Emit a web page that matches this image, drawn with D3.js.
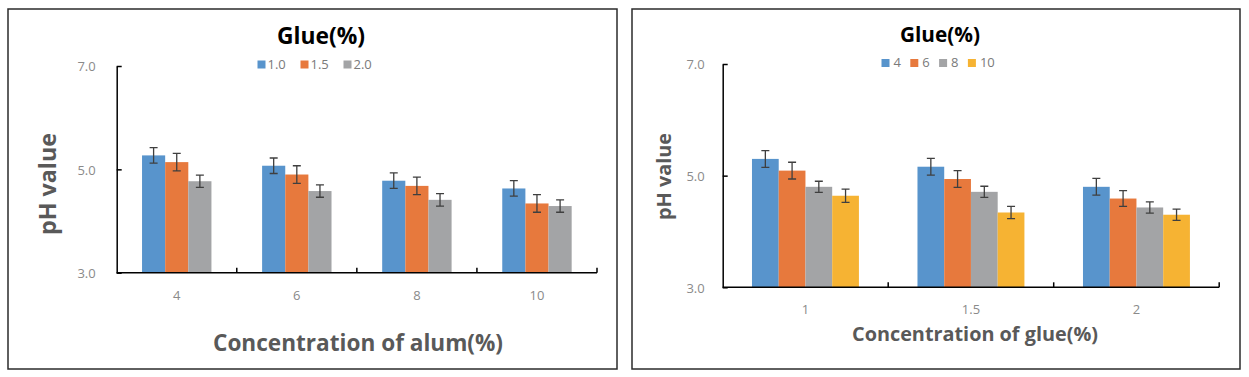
<!DOCTYPE html>
<html>
<head>
<meta charset="utf-8">
<script src="https://cdn.jsdelivr.net/npm/d3@7"></script>
<style>
  html, body { margin: 0; padding: 0; background: #fff; }
  svg { display: block; }
  text { font-family: "Open Sans", "Noto Sans", sans-serif; }
</style>
</head>
<body>
<svg id="chart" width="1249" height="377"></svg>
<script>
// ---------- DATA ----------
const yTickValues = [3.0, 5.0, 7.0];

const leftCategories = ["4", "6", "8", "10"];
const leftSeries = ["1.0", "1.5", "2.0"];
const leftValues = [
  [5.27, 5.07, 4.78, 4.63],
  [5.14, 4.90, 4.68, 4.34],
  [4.77, 4.58, 4.41, 4.29]
];
const leftErrors = [
  [0.15, 0.15, 0.15, 0.15],
  [0.17, 0.17, 0.17, 0.17],
  [0.12, 0.12, 0.12, 0.12]
];

const rightCategories = ["1", "1.5", "2"];
const rightSeries = ["4", "6", "8", "10"];
const rightValues = [
  [5.30, 5.16, 4.80],
  [5.09, 4.94, 4.59],
  [4.80, 4.71, 4.43],
  [4.64, 4.34, 4.30]
];
const rightErrors = [
  [0.15, 0.15, 0.15],
  [0.15, 0.15, 0.14],
  [0.10, 0.10, 0.10],
  [0.12, 0.11, 0.10]
];

const chartTitle = "Glue(%)";
const yTitle = "pH value";
const leftXTitle = "Concentration of alum(%)";
const rightXTitle = "Concentration of glue(%)";

// ---------- STYLE ----------
const colors = ["#5894CC", "#E7793D", "#A3A4A6", "#F6B333"];
const svg = d3.select("#chart");

function fitWidth(sel, target) {
  const node = sel.node();
  let fs = parseFloat(sel.attr("font-size"));
  for (let i = 0; i < 3; i++) {
    const w = node.getComputedTextLength();
    fs = fs * target / w;
    sel.attr("font-size", fs);
  }
}

function drawChart(cfg) {
  const g = svg.append("g");
  // frame
  g.append("rect")
    .attr("x", cfg.frame[0]).attr("y", cfg.frame[1])
    .attr("width", cfg.frame[2] - cfg.frame[0]).attr("height", cfg.frame[3] - cfg.frame[1])
    .attr("fill", "#fff").attr("stroke", "#2b2b2b").attr("stroke-width", 1.5);

  const y = d3.scaleLinear().domain([3, 7]).range([cfg.y1, cfg.y0]);
  const xCat = d3.scaleBand().domain(cfg.categories).range([cfg.x0, cfg.x1]);
  const n = cfg.series.length;
  const groupW = xCat.bandwidth() * n / (n + 2.19);
  const xSer = d3.scaleBand().domain(d3.range(n)).range([0, groupW]);
  const off = (xCat.bandwidth() - groupW) / 2;

  // bars
  const flat = [];
  cfg.values.forEach((row, si) => row.forEach((v, ci) => {
    flat.push({ si, ci, v, e: cfg.errors[si][ci], cat: cfg.categories[ci] });
  }));
  g.append("g").selectAll("rect").data(flat).join("rect")
    .attr("x", d => xCat(d.cat) + off + xSer(d.si))
    .attr("width", xSer.bandwidth())
    .attr("y", d => y(d.v))
    .attr("height", d => y(3) - y(d.v))
    .attr("fill", d => colors[d.si]);

  // error bars
  const eg = g.append("g").attr("stroke", "#3f3f3f").attr("stroke-width", 1.3).attr("fill", "none");
  const cap = 4;
  const ex = d => xCat(d.cat) + off + xSer(d.si) + xSer.bandwidth() / 2;
  eg.selectAll("path").data(flat).join("path")
    .attr("d", d => {
      const cx = ex(d), t = y(d.v + d.e), b = y(d.v - d.e);
      return `M${cx},${t}V${b}M${cx - cap},${t}H${cx + cap}M${cx - cap},${b}H${cx + cap}`;
    });

  // y axis (ticks pointing inward)
  const yAxis = d3.axisRight(y).tickValues(yTickValues).tickSize(5).tickFormat("").tickSizeOuter(0);
  const ya = g.append("g").attr("transform", `translate(${cfg.x0},0)`).call(yAxis);
  ya.select(".domain").attr("stroke", "#000").attr("stroke-width", 1.5);
  ya.selectAll(".tick line").attr("stroke", "#000").attr("stroke-width", 1.5);
  g.append("g").selectAll("text").data(yTickValues).join("text")
    .attr("x", cfg.x0 - cfg.yLabelGap)
    .attr("y", d => y(d) + 2)
    .attr("text-anchor", "end").attr("dominant-baseline", "middle")
    .attr("font-size", 13).attr("fill", "#8a8a8a")
    .text(d => d.toFixed(1));

  // x axis with ticks at category boundaries, pointing up
  const bounds = cfg.categories.map(c => xCat(c)).concat([cfg.x1]).slice(1);
  g.append("line").attr("x1", cfg.x0).attr("x2", cfg.x1).attr("y1", y(3)).attr("y2", y(3))
    .attr("stroke", "#000").attr("stroke-width", 1.5);
  g.append("g").selectAll("line").data(bounds).join("line")
    .attr("x1", d => d).attr("x2", d => d).attr("y1", y(3)).attr("y2", y(3) - 5)
    .attr("stroke", "#000").attr("stroke-width", 1.5);
  g.append("g").selectAll("text").data(cfg.categories).join("text")
    .attr("x", d => xCat(d) + xCat.bandwidth() / 2)
    .attr("y", cfg.catLabelY)
    .attr("text-anchor", "middle").attr("dominant-baseline", "middle")
    .attr("font-size", 13).attr("fill", "#8a8a8a")
    .text(d => d);

  // title
  const t = g.append("text").attr("x", cfg.titleX).attr("y", cfg.titleY)
    .attr("text-anchor", "middle").attr("dominant-baseline", "middle")
    .attr("font-weight", "bold").attr("font-size", 20).attr("fill", "#000")
    .text(chartTitle);
  fitWidth(t, cfg.titleW);

  // legend
  const lg = g.append("g");
  cfg.series.forEach((s, i) => {
    const lx = cfg.legendX + i * cfg.legendPitch;
    lg.append("rect").attr("x", lx).attr("y", cfg.legendY - 4).attr("width", 8).attr("height", 8)
      .attr("fill", colors[i]);
    lg.append("text").attr("x", lx + cfg.legendTextOff).attr("y", cfg.legendY + 1)
      .attr("dominant-baseline", "middle").attr("font-size", 13).attr("fill", "#7a7a7a")
      .text(s);
  });

  // y title
  const yt = g.append("text")
    .attr("transform", `translate(${cfg.yTitleX},${cfg.yTitleY}) rotate(-90)`)
    .attr("text-anchor", "middle").attr("dominant-baseline", "middle")
    .attr("font-weight", "bold").attr("font-size", 20).attr("fill", "#595959")
    .text(yTitle);
  fitWidth(yt, cfg.yTitleW);

  // x title
  const xt = g.append("text").attr("x", cfg.xTitleX).attr("y", cfg.xTitleY)
    .attr("text-anchor", "middle").attr("dominant-baseline", "middle")
    .attr("font-weight", "bold").attr("font-size", 20).attr("fill", "#595959")
    .text(cfg.xTitle);
  fitWidth(xt, cfg.xTitleW);
}

drawChart({
  frame: [8, 9, 617, 369],
  x0: 116.7, x1: 597, y0: 66, y1: 272.7,
  categories: leftCategories, series: leftSeries, values: leftValues, errors: leftErrors,
  yLabelGap: 21, catLabelY: 297,
  titleX: 321, titleY: 38, titleW: 88,
  legendX: 257.5, legendY: 64.5, legendPitch: 43, legendTextOff: 10,
  yTitleX: 50, yTitleY: 184, yTitleW: 102,
  xTitle: leftXTitle, xTitleX: 358, xTitleY: 345, xTitleW: 290
});

drawChart({
  frame: [632, 9, 1240, 369],
  x0: 722.7, x1: 1219.2, y0: 64, y1: 287.3,
  categories: rightCategories, series: rightSeries, values: rightValues, errors: rightErrors,
  yLabelGap: 18, catLabelY: 311,
  titleX: 940, titleY: 36, titleW: 80,
  legendX: 881.5, legendY: 63, legendPitch: 28.8, legendTextOff: 12,
  yTitleX: 666, yTitleY: 176.5, yTitleW: 87,
  xTitle: rightXTitle, xTitleX: 975, xTitleY: 336, xTitleW: 246
});
</script>
</body>
</html>
